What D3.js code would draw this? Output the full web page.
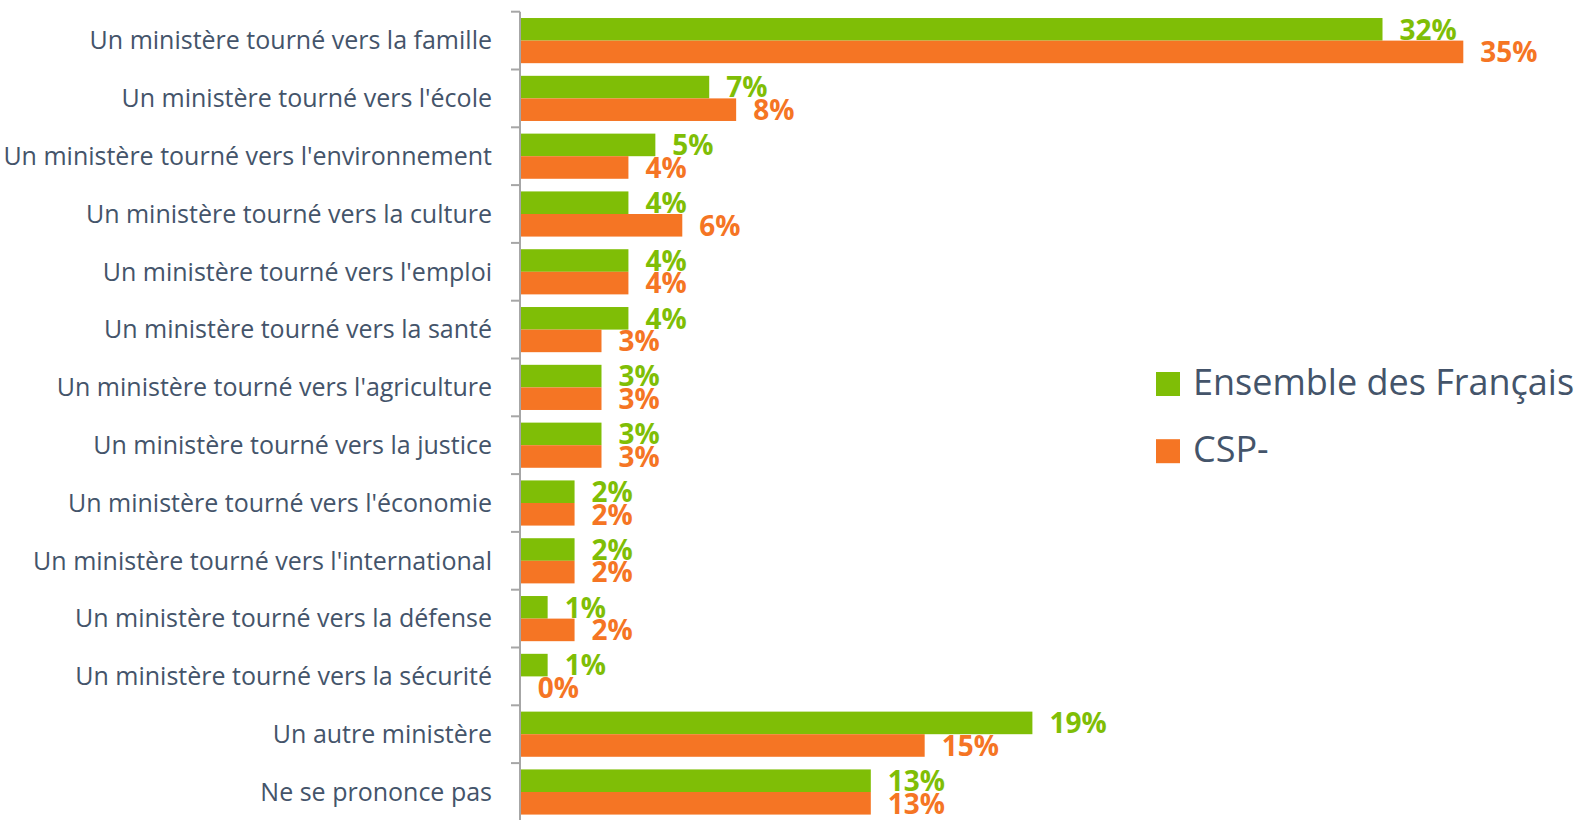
<!DOCTYPE html>
<html>
<head>
<meta charset="utf-8">
<script src="https://cdn.jsdelivr.net/npm/d3@7"></script>
<style>
html, body { margin: 0; padding: 0; background: #ffffff; }
svg { display: block; }
</style>
</head>
<body>
<div id="chart"></div>
<script>
const categories = [
  "Un ministère tourné vers la famille",
  "Un ministère tourné vers l'école",
  "Un ministère tourné vers l'environnement",
  "Un ministère tourné vers la culture",
  "Un ministère tourné vers l'emploi",
  "Un ministère tourné vers la santé",
  "Un ministère tourné vers l'agriculture",
  "Un ministère tourné vers la justice",
  "Un ministère tourné vers l'économie",
  "Un ministère tourné vers l'international",
  "Un ministère tourné vers la défense",
  "Un ministère tourné vers la sécurité",
  "Un autre ministère",
  "Ne se prononce pas"
];
const seriesNames = ["Ensemble des Français", "CSP-"];
const ensembleValues = [32, 7, 5, 4, 4, 4, 3, 3, 2, 2, 1, 1, 19, 13];
const cspValues = [35, 8, 4, 6, 4, 3, 3, 3, 2, 2, 2, 0, 15, 13];
const seriesColors = ["#7fbe06", "#f57524"];

const W = 1581, H = 820;
const svg = d3.select("#chart").append("svg").attr("width", W).attr("height", H);

const data = categories.map((c, i) => ({ cat: c, vals: [ensembleValues[i], cspValues[i]] }));

const y = d3.scaleBand().domain(categories).range([11.7, 11.7 + 14 * 57.8]).padding(0);
const sub = d3.scaleBand().domain(seriesNames).range([0, y.step()]).paddingInner(0).paddingOuter(0.28);
const x = d3.scaleLinear().domain([0, 35]).range([520.7, 1463.3]);

const textColor = "#44546a";

// bars
const g = svg.append("g");
const rows = g.selectAll("g.row").data(data).join("g")
  .attr("class", "row")
  .attr("transform", d => `translate(0,${y(d.cat)})`);

seriesNames.forEach((s, si) => {
  rows.append("rect")
    .attr("x", x(0))
    .attr("y", sub(s))
    .attr("width", d => x(d.vals[si]) - x(0))
    .attr("height", sub.bandwidth())
    .attr("fill", seriesColors[si]);
  rows.append("text")
    .attr("x", d => x(d.vals[si]) + 17)
    .attr("y", sub(s) + sub.bandwidth() - 1)
    .attr("font-family", "'Open Sans', sans-serif")
    .attr("font-weight", "bold")
    .attr("font-size", 28)
    .attr("fill", seriesColors[si])
    .text(d => d.vals[si] + "%");
});

// axis line
const axisX = 520;
svg.append("line")
  .attr("x1", axisX).attr("x2", axisX)
  .attr("y1", y.range()[0]).attr("y2", H)
  .attr("stroke", "#a6a6a6").attr("stroke-width", 2);

// boundary ticks
const bounds = categories.map(c => y(c));
svg.selectAll("line.tick").data(bounds).join("line")
  .attr("class", "tick")
  .attr("x1", axisX - 9).attr("x2", axisX)
  .attr("y1", d => d).attr("y2", d => d)
  .attr("stroke", "#a6a6a6").attr("stroke-width", 2);

// category labels via axis
const yAxis = d3.axisLeft(y).tickSize(0).tickPadding(0);
const ag = svg.append("g").attr("transform", `translate(${axisX - 28},0)`).call(yAxis);
ag.select(".domain").remove();
ag.selectAll("text")
  .attr("font-family", "'Open Sans', sans-serif")
  .attr("font-size", 25)
  .attr("fill", textColor)
  .attr("dy", "0.35em");

// legend
const legend = svg.append("g").attr("transform", "translate(1156,372)");
const li = legend.selectAll("g").data(seriesNames).join("g")
  .attr("transform", (d, i) => `translate(0,${i * 67.2})`);
li.append("rect").attr("width", 24).attr("height", 24)
  .attr("fill", (d, i) => seriesColors[i]);
li.append("text")
  .attr("x", 37).attr("y", 22.5)
  .attr("font-family", "'Open Sans', sans-serif")
  .attr("font-size", 36)
  .attr("fill", textColor)
  .text(d => d);
</script>
</body>
</html>
